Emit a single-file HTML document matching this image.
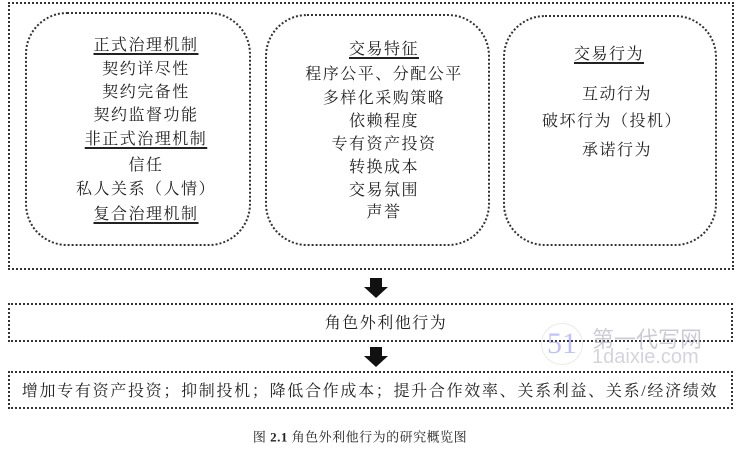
<!DOCTYPE html>
<html><head><meta charset="utf-8"><style>
body{margin:0;width:740px;height:449px;background:#fff;position:relative;overflow:hidden;font-family:"Liberation Serif","Noto Serif CJK SC","Noto Sans CJK SC",serif;color:#222}
.b{position:absolute;box-sizing:border-box;border:2px dotted #333}
.r{border-radius:42px}
.t{position:absolute;font-size:16px;letter-spacing:1.5px;white-space:nowrap;transform:translate(-50%,-50%);line-height:1}
.u{text-decoration:underline;text-decoration-thickness:2px;text-underline-offset:3px}
.ar{position:absolute;width:0;height:0}
</style></head><body>
<div class="b" style="left:8px;top:2px;width:726px;height:268px"></div>
<div class="b r" style="left:25px;top:12px;width:226px;height:234px"></div>
<div class="b r" style="left:265px;top:14px;width:225px;height:232px"></div>
<div class="b r" style="left:503px;top:15px;width:214px;height:231px"></div>

<div class="t u" style="left:146px;top:46px">正式治理机制</div>
<div class="t" style="left:146px;top:70px">契约详尽性</div>
<div class="t" style="left:146px;top:93px">契约完备性</div>
<div class="t" style="left:146px;top:116px">契约监督功能</div>
<div class="t u" style="left:146px;top:140px">非正式治理机制</div>
<div class="t" style="left:146px;top:166px">信任</div>
<div class="t" style="left:146px;top:190px">私人关系（人情）</div>
<div class="t u" style="left:146px;top:215px">复合治理机制</div>

<div class="t u" style="left:384px;top:50px">交易特征</div>
<div class="t" style="left:384px;top:75px">程序公平、分配公平</div>
<div class="t" style="left:384px;top:99px">多样化采购策略</div>
<div class="t" style="left:384px;top:122px">依赖程度</div>
<div class="t" style="left:384px;top:145px">专有资产投资</div>
<div class="t" style="left:384px;top:168px">转换成本</div>
<div class="t" style="left:384px;top:191px">交易氛围</div>
<div class="t" style="left:384px;top:213px">声誉</div>

<div class="t u" style="left:609px;top:55px">交易行为</div>
<div class="t" style="left:617px;top:95px">互动行为</div>
<div class="t" style="left:612px;top:122px">破坏行为（投机）</div>
<div class="t" style="left:617px;top:151px">承诺行为</div>

<div style="position:absolute;left:370px;top:278px;width:12px;height:9px;background:#111"></div>
<div class="ar" style="left:364px;top:287px;border-left:12.5px solid transparent;border-right:12.5px solid transparent;border-top:11px solid #111"></div>

<div class="b" style="left:8px;top:303px;width:725px;height:39px"></div>
<div class="t" style="left:386px;top:324px">角色外利他行为</div>

<div style="position:absolute;left:370px;top:347px;width:12px;height:9px;background:#111"></div>
<div class="ar" style="left:364px;top:356px;border-left:12.5px solid transparent;border-right:12.5px solid transparent;border-top:11px solid #111"></div>

<div class="b" style="left:8px;top:371px;width:725px;height:38px"></div>
<div class="t" style="left:370px;top:392px;letter-spacing:1.7px">增加专有资产投资；抑制投机；降低合作成本；提升合作效率、关系利益、关系/经济绩效</div>

<div class="t" style="left:360px;top:437px;font-size:13px;letter-spacing:0.5px">图 <b>2.1</b> 角色外利他行为的研究概览图</div>

<div style="position:absolute;left:541px;top:323px;width:40px;height:40px;border-radius:50%;border:1px solid #ddd;color:#99f;font-size:30px;line-height:40px;text-align:center;opacity:.6">51</div>
<div style="position:absolute;left:592px;top:322px;color:#aab;font-size:22px;opacity:.6;font-family:'Noto Sans CJK SC',sans-serif">第一代写网</div>
<div style="position:absolute;left:592px;top:346px;color:#aab;font-size:20px;opacity:.5;font-family:'Liberation Sans',sans-serif">1daixie.com</div>
</body></html>
